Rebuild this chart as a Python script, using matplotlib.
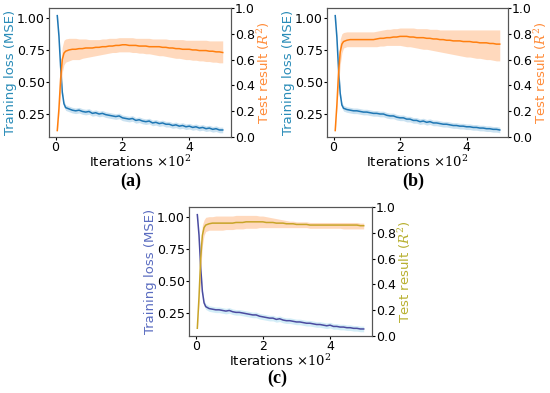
import numpy as np
import matplotlib
matplotlib.use('Agg')
import matplotlib.pyplot as plt

plt.rcParams['mathtext.fontset'] = 'dejavuserif'

# iterations (x 10^2)
x = [0.05, 0.1, 0.15, 0.2, 0.25, 0.3] + [round(0.4 + 0.1*k, 2) for k in range(47)]

# training loss (MSE), mean curves
loss_a = [1.02, 0.86, 0.62, 0.42, 0.33, 0.30,
          0.29, 0.28, 0.275, 0.28, 0.27, 0.265, 0.27, 0.255, 0.26, 0.25, 0.255,
          0.245, 0.24, 0.235, 0.23, 0.235, 0.22, 0.215, 0.21, 0.215, 0.20,
          0.205, 0.195, 0.19, 0.195, 0.18, 0.185, 0.175, 0.18, 0.17, 0.17,
          0.16, 0.165, 0.155, 0.16, 0.15, 0.155, 0.145, 0.15, 0.14, 0.145,
          0.135, 0.14, 0.13, 0.135, 0.125, 0.125]
loss_b = [1.02, 0.85, 0.60, 0.41, 0.32, 0.295,
          0.285, 0.28, 0.275, 0.275, 0.27, 0.265, 0.265, 0.26, 0.255, 0.255, 0.25,
          0.25, 0.24, 0.235, 0.235, 0.225, 0.22, 0.22, 0.21, 0.21, 0.20,
          0.20, 0.19, 0.195, 0.185, 0.19, 0.18, 0.18, 0.175, 0.17, 0.17,
          0.165, 0.16, 0.16, 0.155, 0.155, 0.15, 0.15, 0.145, 0.145, 0.14,
          0.14, 0.135, 0.135, 0.13, 0.13, 0.125]
loss_c = [1.02, 0.86, 0.61, 0.42, 0.33, 0.30,
          0.285, 0.28, 0.275, 0.275, 0.27, 0.265, 0.27, 0.26, 0.255, 0.255, 0.25,
          0.245, 0.24, 0.235, 0.235, 0.225, 0.22, 0.215, 0.21, 0.21, 0.20,
          0.205, 0.195, 0.19, 0.19, 0.185, 0.18, 0.18, 0.175, 0.17, 0.17,
          0.165, 0.16, 0.16, 0.155, 0.15, 0.155, 0.145, 0.145, 0.14, 0.14,
          0.135, 0.135, 0.13, 0.13, 0.125, 0.125]
loss_spread = 0.022

# test result (R^2): mean, upper and lower band
r2_a = [0.05, 0.22, 0.45, 0.60, 0.65, 0.665,
        0.675, 0.68, 0.68, 0.685, 0.685, 0.69, 0.69, 0.69, 0.695, 0.695, 0.70,
        0.70, 0.705, 0.705, 0.71, 0.71, 0.715, 0.715, 0.71, 0.71, 0.71,
        0.705, 0.705, 0.705, 0.70, 0.70, 0.70, 0.70, 0.695, 0.695, 0.69,
        0.69, 0.685, 0.685, 0.68, 0.68, 0.68, 0.675, 0.675, 0.67, 0.67,
        0.67, 0.665, 0.665, 0.66, 0.66, 0.655]
r2_a_hi = [0.06, 0.25, 0.55, 0.70, 0.75, 0.76,
           0.765, 0.765, 0.765, 0.76, 0.76, 0.76, 0.755, 0.755, 0.755, 0.755, 0.76,
           0.76, 0.765, 0.765, 0.765, 0.77, 0.77, 0.77, 0.77, 0.77, 0.765,
           0.765, 0.765, 0.765, 0.765, 0.76, 0.76, 0.76, 0.76, 0.76, 0.755,
           0.755, 0.755, 0.755, 0.755, 0.75, 0.75, 0.75, 0.75, 0.75, 0.75,
           0.75, 0.745, 0.745, 0.745, 0.745, 0.745]
r2_a_lo = [0.04, 0.18, 0.35, 0.50, 0.56, 0.58,
           0.59, 0.60, 0.60, 0.60, 0.61, 0.615, 0.62, 0.625, 0.63, 0.635, 0.64,
           0.645, 0.65, 0.655, 0.655, 0.66, 0.66, 0.66, 0.66, 0.655, 0.655,
           0.65, 0.65, 0.645, 0.645, 0.64, 0.635, 0.63, 0.63, 0.625, 0.62,
           0.615, 0.61, 0.61, 0.605, 0.60, 0.60, 0.595, 0.595, 0.59, 0.59,
           0.585, 0.585, 0.58, 0.58, 0.575, 0.575]

r2_b = [0.05, 0.25, 0.50, 0.66, 0.72, 0.74,
        0.75, 0.755, 0.755, 0.755, 0.755, 0.755, 0.755, 0.755, 0.755, 0.76, 0.765,
        0.765, 0.77, 0.77, 0.775, 0.775, 0.78, 0.78, 0.78, 0.775, 0.775,
        0.77, 0.77, 0.77, 0.765, 0.765, 0.76, 0.76, 0.755, 0.755, 0.75,
        0.75, 0.745, 0.745, 0.745, 0.74, 0.74, 0.74, 0.735, 0.735, 0.73,
        0.73, 0.73, 0.725, 0.725, 0.72, 0.72]
r2_b_hi = [0.06, 0.28, 0.60, 0.76, 0.80, 0.81,
           0.815, 0.815, 0.815, 0.815, 0.815, 0.815, 0.815, 0.815, 0.815, 0.82, 0.825,
           0.83, 0.835, 0.835, 0.84, 0.84, 0.845, 0.845, 0.845, 0.845, 0.845,
           0.84, 0.84, 0.84, 0.84, 0.835, 0.835, 0.835, 0.83, 0.83, 0.83,
           0.83, 0.83, 0.83, 0.83, 0.83, 0.83, 0.83, 0.83, 0.83, 0.83,
           0.83, 0.83, 0.83, 0.83, 0.83, 0.83]
r2_b_lo = [0.04, 0.22, 0.40, 0.56, 0.65, 0.69,
           0.70, 0.70, 0.70, 0.70, 0.70, 0.70, 0.70, 0.70, 0.70, 0.70, 0.705,
           0.705, 0.71, 0.71, 0.71, 0.71, 0.71, 0.705, 0.70, 0.70, 0.695,
           0.69, 0.685, 0.68, 0.68, 0.675, 0.67, 0.665, 0.66, 0.655, 0.65,
           0.645, 0.64, 0.635, 0.63, 0.625, 0.62, 0.62, 0.615, 0.61, 0.61,
           0.605, 0.60, 0.60, 0.595, 0.59, 0.59]

r2_c = [0.06, 0.30, 0.60, 0.78, 0.84, 0.86,
        0.87, 0.875, 0.875, 0.875, 0.875, 0.875, 0.875, 0.875, 0.88, 0.88, 0.88,
        0.885, 0.885, 0.885, 0.885, 0.885, 0.885, 0.88, 0.88, 0.88, 0.875,
        0.875, 0.875, 0.87, 0.87, 0.87, 0.865, 0.865, 0.865, 0.865, 0.86,
        0.86, 0.86, 0.86, 0.86, 0.86, 0.86, 0.86, 0.86, 0.86, 0.86,
        0.86, 0.86, 0.86, 0.86, 0.855, 0.855]
r2_c_hi = [0.07, 0.35, 0.70, 0.86, 0.90, 0.92,
           0.925, 0.925, 0.93, 0.93, 0.93, 0.93, 0.93, 0.93, 0.935, 0.935, 0.935,
           0.935, 0.935, 0.935, 0.935, 0.93, 0.93, 0.925, 0.92, 0.915, 0.91,
           0.905, 0.90, 0.895, 0.89, 0.89, 0.885, 0.885, 0.885, 0.885, 0.88,
           0.88, 0.88, 0.88, 0.88, 0.88, 0.88, 0.88, 0.88, 0.88, 0.88,
           0.88, 0.88, 0.88, 0.88, 0.875, 0.875]
r2_c_lo = [0.05, 0.25, 0.50, 0.70, 0.78, 0.81,
           0.82, 0.82, 0.82, 0.82, 0.82, 0.825, 0.825, 0.825, 0.83, 0.83, 0.83,
           0.835, 0.835, 0.835, 0.835, 0.84, 0.84, 0.84, 0.84, 0.84, 0.84,
           0.84, 0.84, 0.84, 0.84, 0.84, 0.84, 0.84, 0.84, 0.84, 0.835,
           0.835, 0.835, 0.835, 0.835, 0.835, 0.835, 0.835, 0.835, 0.835, 0.83,
           0.83, 0.83, 0.83, 0.83, 0.83, 0.83]

captions = ['(a)', '(b)', '(c)']


def panel(rect, loss, r2, r2_hi, r2_lo, cap, cap_xy, cols):
    lcol, lband, llab, tcol, tband, tlab = cols
    ax = fig.add_axes(rect)
    xx = np.array(x)
    ll = np.array(loss)
    ax.fill_between(xx, ll - loss_spread, ll + loss_spread, color=lband, alpha=0.45, lw=0)
    ax.plot(xx, ll, color=lcol, lw=1.1)
    ax.set_ylim(0.07, 1.08)
    ax.set_yticks([0.25, 0.5, 0.75, 1.0])
    ax.set_xticks([0, 2, 4])
    ax.set_xlabel(r'Iterations $\times10^2$', fontsize=9.5, labelpad=0)
    ax.set_ylabel('Training loss (MSE)', color=llab, fontsize=9.5, labelpad=0)
    ax.tick_params(labelsize=9, length=2, pad=1)
    ax2 = ax.twinx()
    ax2.fill_between(xx, r2_lo, r2_hi, color=tband, alpha=0.55, lw=0)
    ax2.plot(xx, r2, color=tcol, lw=1.1)
    ax2.set_ylim(0, 1)
    ax2.set_yticks([0, 0.2, 0.4, 0.6, 0.8, 1.0])
    ax2.set_ylabel(r'Test result ($R^2$)', color=tlab, fontsize=9.5, labelpad=0)
    ax2.tick_params(labelsize=9, length=2, pad=1)
    for sp in list(ax.spines.values()) + list(ax2.spines.values()):
        sp.set_color('#555555')
        sp.set_linewidth(0.8)
    fig.text(cap_xy[0], cap_xy[1], cap, ha='center', va='center',
             fontsize=13, fontweight='bold', family='Liberation Serif')


fig = plt.figure(figsize=(5.5, 3.93), dpi=100)

cols_ab = ('#1f77b4', '#8cc0e0', '#2a8cb8', '#ff7f0e', '#ffbb88', '#ff8c3a')
cols_c = ('#4b4ba0', '#9fd8ee', '#5a6cc0', '#c8a428', '#ffbb88', '#b8b030')

panel([49/550, 1-137/393, 182/550, 129/393], loss_a, r2_a, r2_a_hi, r2_a_lo,
      captions[0], (131/550, 1-181/393), cols_ab)
panel([327/550, 1-137/393, 181/550, 129/393], loss_b, r2_b, r2_b_hi, r2_b_lo,
      captions[1], (413/550, 1-181/393), cols_ab)
panel([189/550, 1-336/393, 183/550, 129/393], loss_c, r2_c, r2_c_hi, r2_c_lo,
      captions[2], (277/550, 1-378/393), cols_c)

fig.savefig('out.png', dpi=100)
